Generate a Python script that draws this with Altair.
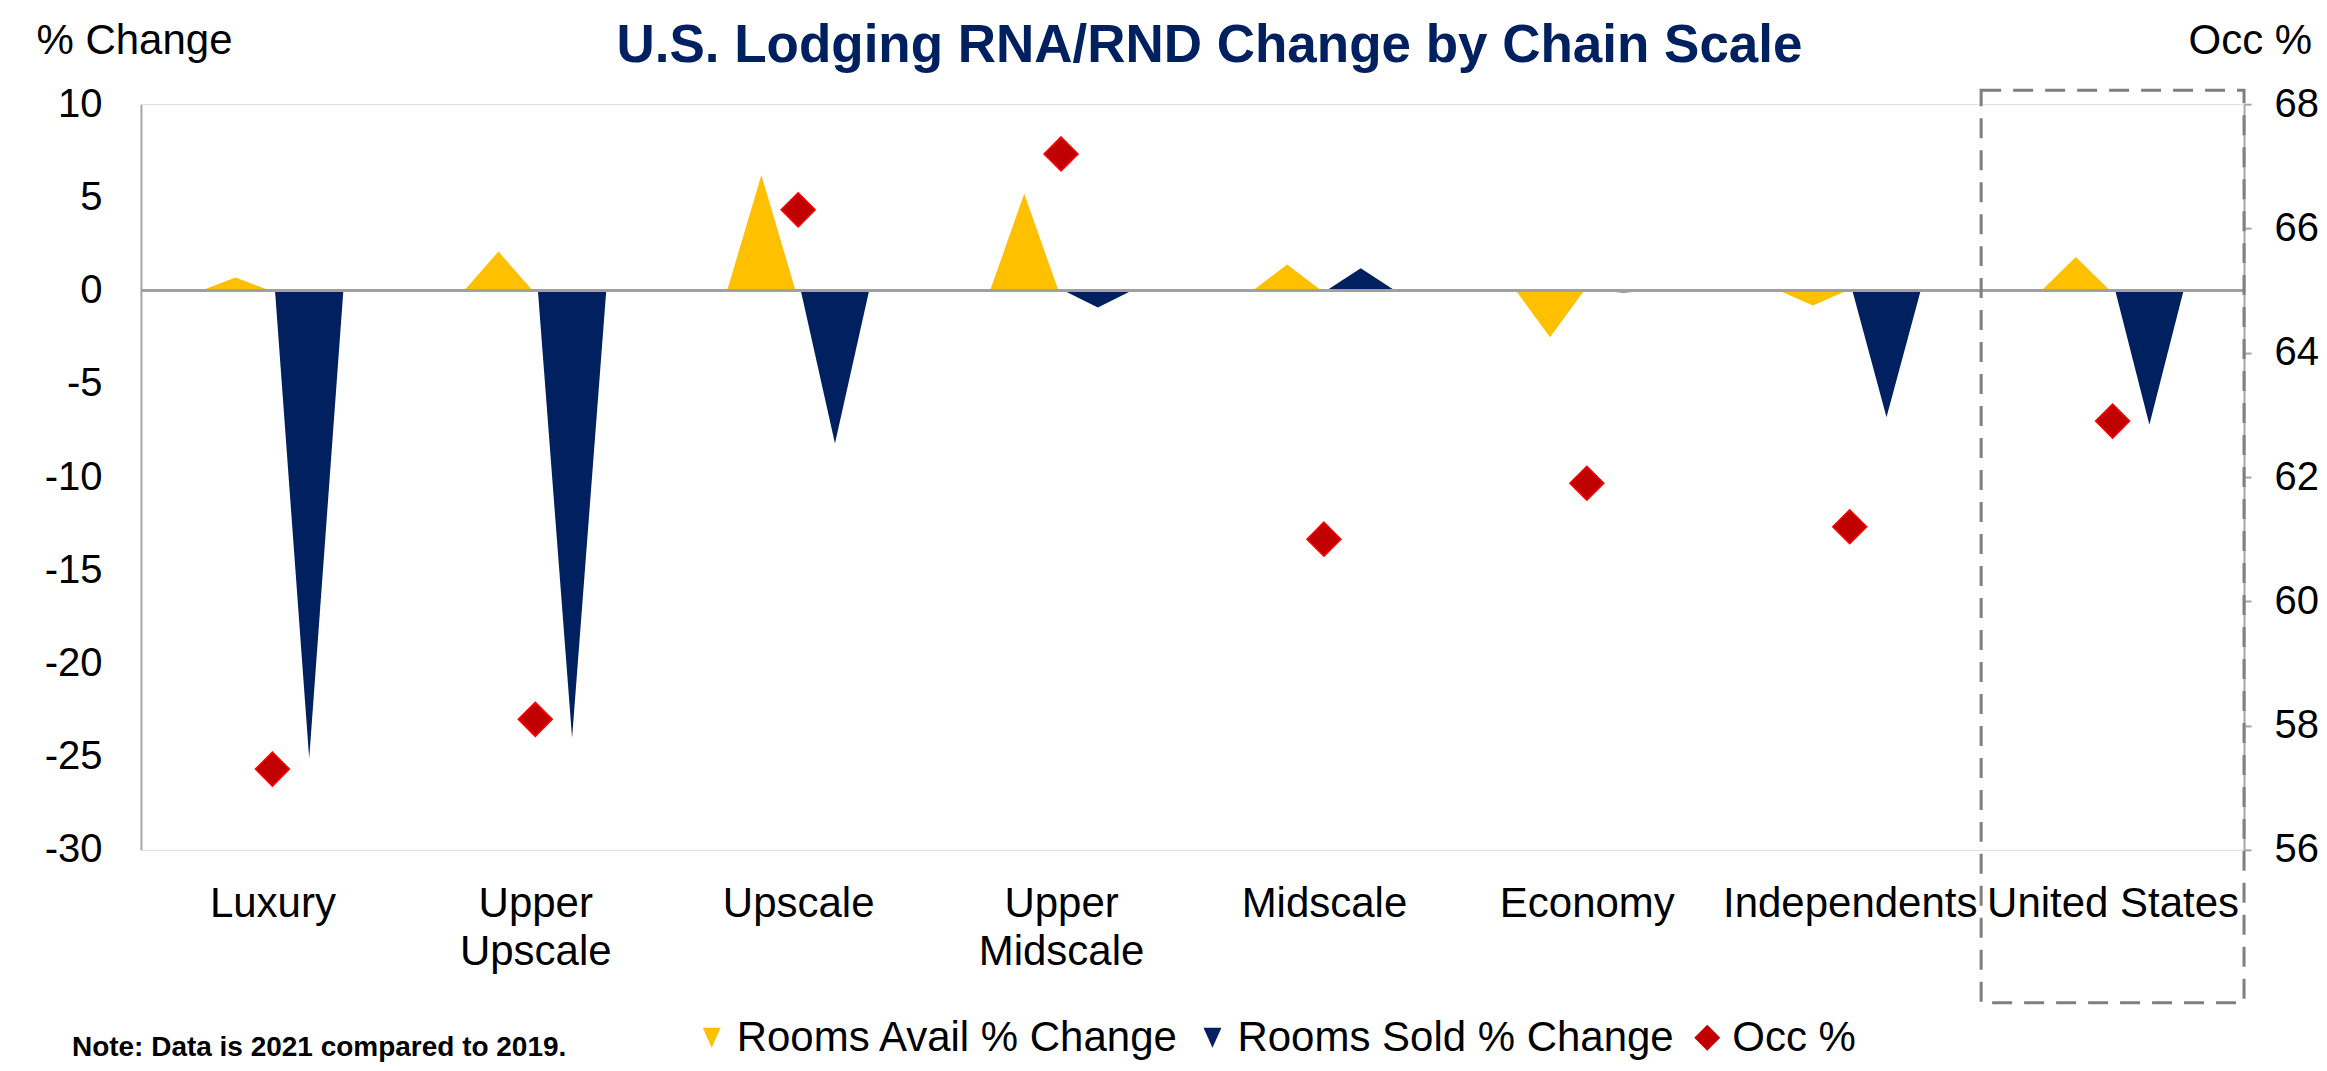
import json
import altair as alt
import pandas as pd

# ---------------- data ----------------
categories = ["Luxury", "Upper\nUpscale", "Upscale", "Upper\nMidscale",
              "Midscale", "Economy", "Independents", "United States"]
rooms_avail = [0.7, 2.1, 6.2, 5.2, 1.4, -2.5, -0.8, 1.8]
rooms_sold = [-25.1, -24.0, -8.2, -0.9, 1.2, -0.1, -6.8, -7.2]
occ = [57.3, 58.1, 66.3, 67.2, 61.0, 61.9, 61.2, 62.9]
series_names = ["Rooms Avail % Change", "Rooms Sold % Change", "Occ %"]
left_ticks = [-30, -25, -20, -15, -10, -5, 0, 5, 10]
right_ticks = [56, 58, 60, 62, 64, 66, 68]
note_text = ["Note: Data is 2021 compared to 2019."]
title_text = "U.S. Lodging RNA/RND Change by Chain Scale"

# ---------------- styling ----------------
FONT = "Liberation Sans"
GOLD = "#FFC000"
NAVY = "#002060"
RED = "#C00000"
GRAY = "#A6A6A6"
W, H = 2104, 746
HALF, PEAK, GAP = 0.27, 0.14, 0.01

# triangle outlines built from the series values
def tri_table(values, side):
    rows = []
    for i, v in enumerate(values):
        if side < 0:
            pts = [(-HALF, 0.0), (-PEAK, v), (-GAP, 0.0)]
        else:
            pts = [(GAP, 0.0), (PEAK, v), (HALF, 0.0)]
        for xo, yv in pts:
            rows.append({"key": f"c{i}", "x": i + xo, "y": yv})
    return pd.DataFrame(rows)

avail_df = tri_table(rooms_avail, -1)
sold_df = tri_table(rooms_sold, 1)
occ_df = pd.DataFrame({"x": list(range(len(occ))), "occ": occ, "series": ["Occ %"] * len(occ)})
zero_df = pd.DataFrame({"zero": [0]})
box_df = pd.DataFrame({"x": [len(categories) - 1.5], "x2": [len(categories) - 0.5]})
note_df = pd.DataFrame({"note": note_text})

label_expr = "[" + ",".join(json.dumps(c.split("\n")) for c in categories) + "][datum.value]"

x_scale = alt.Scale(domain=[-0.5, len(categories) - 0.5], nice=False, zero=False)
x_axis = alt.Axis(values=list(range(len(categories))), labelExpr=label_expr, domain=False,
                  ticks=False, tickSize=0, grid=False, labelFontSize=42, labelLineHeight=48,
                  labelPadding=34, labelOverlap=False, labelFlush=False, labelColor="black",
                  labelFont=FONT, labelLimit=1000, labelAngle=0, title=None)
X = alt.X("x:Q", scale=x_scale, axis=x_axis)

left_scale = alt.Scale(domain=[-30, 10], nice=False, zero=False)
left_axis = alt.Axis(values=left_ticks, labelExpr="datum.value + ''", grid=False, ticks=False,
                     tickSize=0, domainColor=GRAY,
                     domainWidth=2, labelFontSize=40, labelPadding=39, labelColor="black",
                     labelFont=FONT, title="% Change", titleAngle=0, titleX=-105, titleY=-51,
                     titleAlign="left", titleBaseline="alphabetic", titleFontSize=42,
                     titleFontWeight="normal", titleColor="black", titleFont=FONT)
right_scale = alt.Scale(domain=[56, 68], nice=False, zero=False)
right_axis = alt.Axis(orient="right", values=right_ticks, grid=False, ticks=True, tickSize=7,
                      tickColor=GRAY, tickWidth=2, domainColor=GRAY, domainWidth=2,
                      labelFontSize=40, labelPadding=23, labelColor="black", labelFont=FONT,
                      title="Occ %", titleAngle=0, titleX=-56, titleY=-51, titleAlign="left",
                      titleBaseline="alphabetic", titleFontSize=42, titleFontWeight="normal",
                      titleColor="black", titleFont=FONT)

tri_path = "M-0.69,-0.77L0.69,-0.77L0,0.77Z"
dia_path = "M0,-1L1,0L0,1L-1,0Z"
legend = alt.Legend(orient="none", legendX=550, legendY=913, direction="horizontal", title=None,
                    labelFontSize=42, labelFont=FONT, labelColor="black", symbolSize=676,
                    symbolStrokeWidth=0, labelOffset=4, columnPadding=12, padding=0,
                    labelLimit=1000, symbolOpacity=1)

avail_layer = alt.Chart(avail_df).mark_area(color=GOLD, opacity=1, interpolate="linear").encode(
    x=X, y=alt.Y("y:Q", scale=left_scale, axis=left_axis, stack=None), detail="key:N")
sold_layer = alt.Chart(sold_df).mark_area(color=NAVY, opacity=1, interpolate="linear").encode(
    x=X, y=alt.Y("y:Q", scale=left_scale, axis=None, stack=None), detail="key:N")
zero_layer = alt.Chart(zero_df).mark_rule(color="#A0A0A0", strokeWidth=3).encode(
    y=alt.Y("zero:Q", scale=left_scale, axis=None))
occ_layer = alt.Chart(occ_df).mark_point(filled=True, size=1156, opacity=1, stroke="#FF0000",
                                         strokeWidth=1.5).encode(
    x=X,
    y=alt.Y("occ:Q", scale=right_scale, axis=right_axis),
    color=alt.Color("series:N", scale=alt.Scale(domain=series_names, range=[GOLD, NAVY, RED]),
                    legend=legend),
    shape=alt.Shape("series:N", scale=alt.Scale(domain=series_names,
                                                range=[tri_path, tri_path, dia_path]),
                    legend=legend),
)
box_layer = alt.Chart(box_df).mark_rect(fillOpacity=0, stroke="#7F7F7F", strokeWidth=3,
                                        strokeDash=[20, 12]).encode(
    x=X, x2="x2:Q", y=alt.value(-14), y2=alt.value(899))
note_layer = alt.Chart(note_df).mark_text(align="left", baseline="alphabetic", fontSize=28,
                                          fontWeight="bold", font=FONT, color="black").encode(
    x=alt.value(-69), y=alt.value(952), text="note:N")

chart = alt.layer(avail_layer, sold_layer, zero_layer, box_layer, occ_layer, note_layer).resolve_scale(
    y="independent"
).properties(
    width=W, height=H,
    autosize="none",
    padding={"left": 133, "top": 96, "right": 75, "bottom": 213},
    title=alt.TitleParams(title_text, fontSize=53, font=FONT, fontWeight="bold", color=NAVY,
                          anchor="middle", dx=17, dy=58),
).configure_view(stroke=None).configure(background="white")

chart.save("out.html", embed_options={"renderer": "svg", "actions": False})
